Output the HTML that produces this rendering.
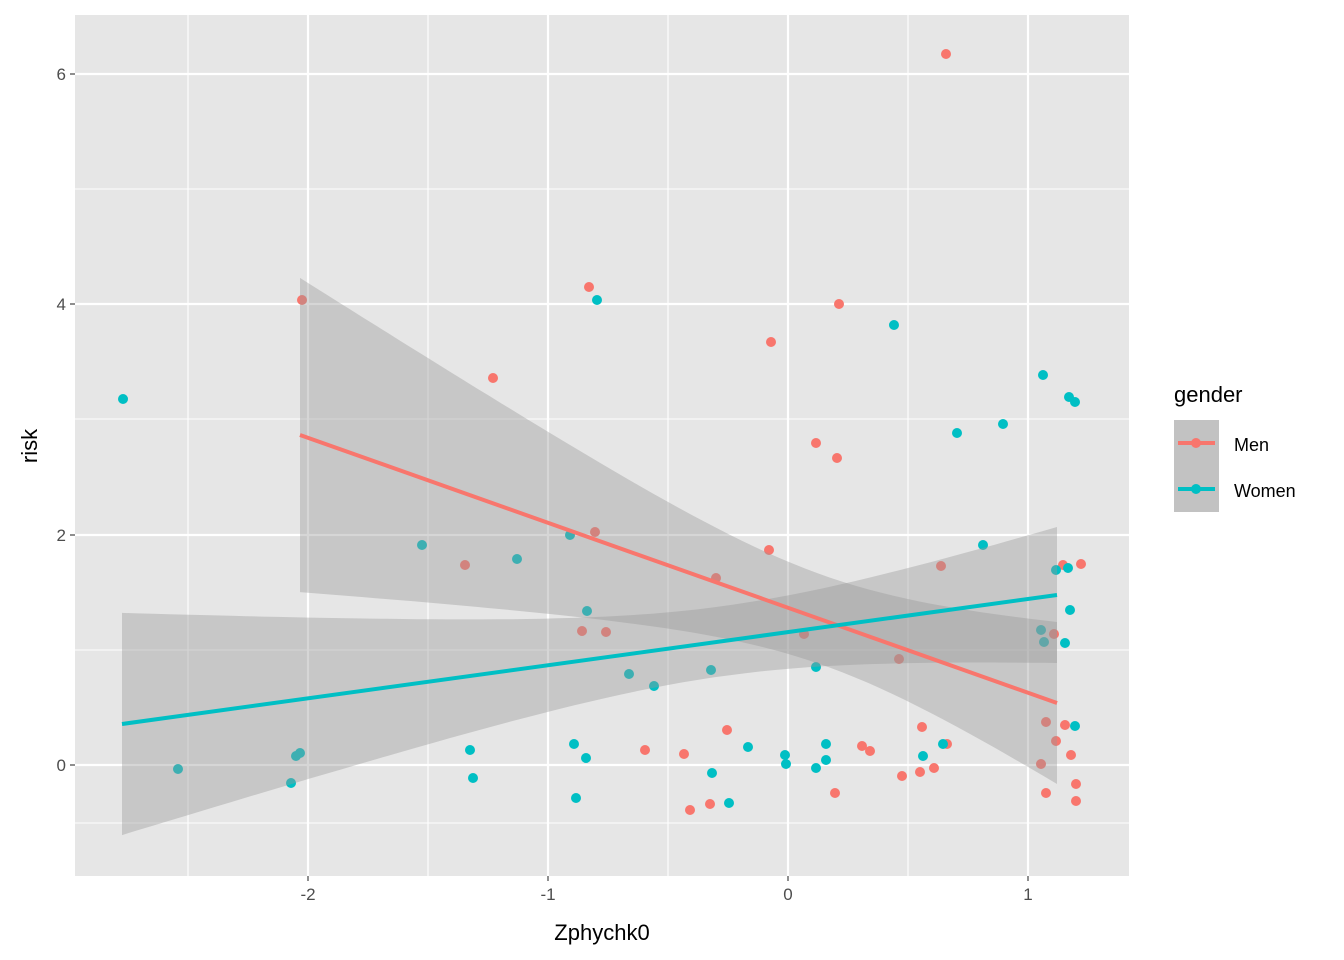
<!DOCTYPE html>
<html><head><meta charset="utf-8"><style>body{margin:0;background:#fff}svg{display:block;font-family:"Liberation Sans",sans-serif}</style></head>
<body>
<svg id="s" width="1344" height="960" xmlns="http://www.w3.org/2000/svg">
<rect x="75" y="15" width="1054" height="861" fill="#E6E6E6"/>
<g stroke="#fff" stroke-width="1.1">
<line x1="75" x2="1129" y1="189" y2="189"/><line x1="75" x2="1129" y1="419" y2="419"/><line x1="75" x2="1129" y1="650" y2="650"/><line x1="75" x2="1129" y1="823" y2="823"/>
<line y1="15" y2="876" x1="188" x2="188"/><line y1="15" y2="876" x1="428" x2="428"/><line y1="15" y2="876" x1="668" x2="668"/><line y1="15" y2="876" x1="908" x2="908"/>
</g>
<g stroke="#fff" stroke-width="2.2">
<line x1="75" x2="1129" y1="74" y2="74"/><line x1="75" x2="1129" y1="304" y2="304"/><line x1="75" x2="1129" y1="535" y2="535"/><line x1="75" x2="1129" y1="765" y2="765"/>
<line y1="15" y2="876" x1="308" x2="308"/><line y1="15" y2="876" x1="548" x2="548"/><line y1="15" y2="876" x1="788" x2="788"/><line y1="15" y2="876" x1="1028" x2="1028"/>
</g>
<g id="pts"></g>
<g id="rib"></g>
<g id="lines"></g>
<g font-size="17" fill="#4D4D4D" text-anchor="end">
<text x="66" y="80">6</text><text x="66" y="310">4</text><text x="66" y="541">2</text><text x="66" y="771">0</text>
</g>
<g stroke="#333" stroke-width="1.1"><line x1="70" x2="75" y1="74" y2="74"/><line x1="70" x2="75" y1="304" y2="304"/><line x1="70" x2="75" y1="535" y2="535"/><line x1="70" x2="75" y1="765" y2="765"/>
<line y1="876" y2="881" x1="308" x2="308"/><line y1="876" y2="881" x1="548" x2="548"/><line y1="876" y2="881" x1="788" x2="788"/><line y1="876" y2="881" x1="1028" x2="1028"/></g>
<g font-size="17" fill="#4D4D4D" text-anchor="middle">
<text x="308" y="900">-2</text><text x="548" y="900">-1</text><text x="788" y="900">0</text><text x="1028" y="900">1</text>
</g>
<text x="602" y="940" font-size="22" text-anchor="middle">Zphychk0</text>
<text transform="translate(37,446) rotate(-90)" font-size="22" text-anchor="middle">risk</text>
<text x="1174" y="402" font-size="22">gender</text>
<rect x="1174" y="420" width="45" height="46" fill="#C2C2C2"/>
<rect x="1174" y="466" width="45" height="46" fill="#C2C2C2"/>
<line x1="1178" x2="1215" y1="443" y2="443" stroke="#F8766D" stroke-width="4"/>
<circle cx="1196" cy="443" r="5" fill="#F8766D"/>
<line x1="1178" x2="1215" y1="489" y2="489" stroke="#00BFC4" stroke-width="4"/>
<circle cx="1196" cy="489" r="5" fill="#00BFC4"/>
<text x="1234" y="451" font-size="18">Men</text>
<text x="1234" y="497" font-size="18">Women</text>
</svg>
<script>
var NS="http://www.w3.org/2000/svg";
function el(p,t,a){var e=document.createElementNS(NS,t);for(var k in a)e.setAttribute(k,a[k]);document.getElementById(p).appendChild(e);}
var men=[[302,300],[589,287],[946,54],[839,304],[771,342],[493,378],[816,443],[837,458],[595,532],[465,565],[769,550],[716,578],[941,566],[582,631],[606,632],[804,634],[899,659],[1063,565],[1081,564],[1054,634],[1046,722],[1065,725],[1056,741],[1071,755],[1076,784],[1076,801],[1046,793],[1041,764],[922,727],[947,744],[934,768],[920,772],[902,776],[862,746],[870,751],[835,793],[727,730],[645,750],[684,754],[710,804],[690,810]];
var wom=[[123,399],[597,300],[894,325],[1043,375],[1069,397],[1075,402],[957,433],[1003,424],[983,545],[570,535],[422,545],[517,559],[1056,570],[1068,568],[1070,610],[1041,630],[1044,642],[1065,643],[1075,726],[587,611],[629,674],[654,686],[711,670],[816,667],[178,769],[291,783],[296,756],[300,753],[470,750],[473,778],[574,744],[586,758],[576,798],[748,747],[785,755],[786,764],[826,744],[826,760],[816,768],[712,773],[729,803],[923,756],[943,744]];
men.forEach(function(p){el("pts","circle",{cx:p[0],cy:p[1],r:5,fill:"#F8766D"});});
wom.forEach(function(p){el("pts","circle",{cx:p[0],cy:p[1],r:5,fill:"#00BFC4"});});
function rib(x0,x1,ya,yb,xm,h0,k2,col){
 var up=[],lo=[];
 for(var i=0;i<=60;i++){var x=x0+(x1-x0)*i/60;var y=ya+(yb-ya)*(x-x0)/(x1-x0);var h=Math.sqrt(h0*h0+k2*(x-xm)*(x-xm));up.push(x.toFixed(1)+","+(y-h).toFixed(1));lo.unshift(x.toFixed(1)+","+(y+h).toFixed(1));}
 el("rib","polygon",{points:up.concat(lo).join(" "),fill:"#999999","fill-opacity":0.4});
 el("lines","line",{x1:x0,y1:ya,x2:x1,y2:yb,stroke:col,"stroke-width":4});
}
rib(300,1057,435,703,823,45,0.0828,"#F8766D");
rib(122,1057,724,595,724,35,0.03065,"#00BFC4");
</script>
</body></html>
